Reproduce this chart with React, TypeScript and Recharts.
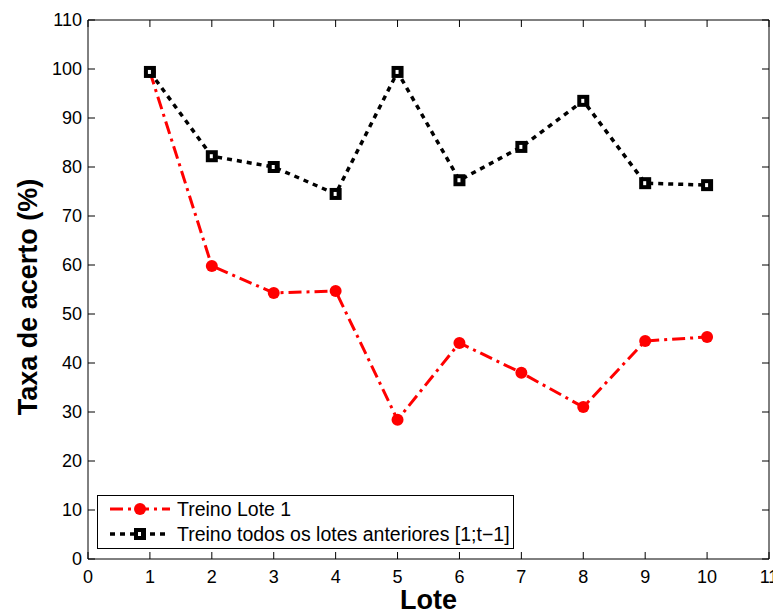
import React from 'react';
import { LineChart, Line, XAxis, YAxis } from 'recharts';

const lotes = [1, 2, 3, 4, 5, 6, 7, 8, 9, 10];
const treinoLote1 = [99.4, 59.8, 54.3, 54.7, 28.4, 44.1, 38.0, 31.0, 44.5, 45.3];
const treinoTodos = [99.4, 82.2, 80.0, 74.5, 99.4, 77.3, 84.1, 93.5, 76.7, 76.3];
const xTicks = [0, 1, 2, 3, 4, 5, 6, 7, 8, 9, 10, 11];
const yTicks = [0, 10, 20, 30, 40, 50, 60, 70, 80, 90, 100, 110];
const seriesNames = ['Treino Lote 1', 'Treino todos os lotes anteriores [1;t\u22121]'];

const data = lotes.map((l, i) => ({ lote: l, a: treinoLote1[i], b: treinoTodos[i] }));

const FONT = '"Liberation Sans", Arial, Helvetica, sans-serif';
const TICK_LEN = 7;
const RED_DASH = '13 5 3 5';
const BLACK_DASH = '5 5';

const BottomTick = (props: any) => {
  const { x, y, payload } = props;
  const axisY = y - 11;
  return (
    <g>
      <line x1={x} x2={x} y1={axisY} y2={axisY - TICK_LEN} stroke="#000" strokeWidth={1} />
      <text x={x} y={y} dy="0.71em" textAnchor="middle" fontFamily={FONT} fontSize={18} fill="#000">
        {payload.value}
      </text>
    </g>
  );
};

const LeftTick = (props: any) => {
  const { x, y, payload } = props;
  const axisX = x + 6;
  return (
    <g>
      <line x1={axisX} x2={axisX + TICK_LEN} y1={y} y2={y} stroke="#000" strokeWidth={1} />
      <text x={x} y={y} dy="0.355em" textAnchor="end" fontFamily={FONT} fontSize={18} fill="#000">
        {payload.value}
      </text>
    </g>
  );
};

const TopTick = (props: any) => {
  const { x, y } = props;
  return <line x1={x} x2={x} y1={y} y2={y + TICK_LEN} stroke="#000" strokeWidth={1} />;
};

const RightTick = (props: any) => {
  const { x, y } = props;
  return <line x1={x} x2={x - TICK_LEN} y1={y} y2={y} stroke="#000" strokeWidth={1} />;
};

const SquareDot = (props: any) => {
  const { cx, cy, index } = props;
  if (cx == null || cy == null) return null;
  return (
    <g key={`sq-${index}`}>
      <rect x={cx - 6} y={cy - 6} width={12} height={12} fill="#000" />
      <rect x={cx - 2} y={cy - 2} width={3} height={4} fill="#fff" />
    </g>
  );
};

const CircleDot = (props: any) => {
  const { cx, cy, index } = props;
  if (cx == null || cy == null) return null;
  return <circle key={`c-${index}`} cx={cx} cy={cy} r={6} fill="#ff0000" />;
};

const LegendBox = () => (
  <div
    style={{
      position: 'absolute',
      left: 89,
      top: 487,
      width: 417,
      height: 54,
      border: '1px solid #000',
      background: '#fff',
      boxSizing: 'border-box',
    }}
  >
    <svg width={415} height={52} style={{ display: 'block' }}>
      <line x1={12} x2={72} y1={13} y2={13} stroke="#ff0000" strokeWidth={3} strokeDasharray={RED_DASH} />
      <circle cx={42} cy={13} r={6} fill="#ff0000" />
      <text x={79} y={13} dy="0.355em" fontFamily={FONT} fontSize={19.5} fill="#000">{seriesNames[0]}</text>
      <line x1={12} x2={72} y1={38} y2={38} stroke="#000" strokeWidth={3.5} strokeDasharray={BLACK_DASH} />
      <rect x={36} y={32} width={12} height={12} fill="#000" />
      <rect x={40} y={36} width={3} height={4} fill="#fff" />
      <text x={79} y={38} dy="0.355em" fontFamily={FONT} fontSize={19.5} fill="#000">{seriesNames[1]}</text>
    </svg>
  </div>
);

const YLabel = () => (
  <text
    transform="translate(29, 289) rotate(-90)"
    textAnchor="middle"
    fontFamily={FONT}
    fontSize={27}
    fontWeight="bold"
    fill="#000"
  >
    Taxa de acerto (%)
  </text>
);

const XLabel = (props: any) => {
  const vb = props.viewBox || { x: 80, width: 681 };
  return (
    <text x={vb.x + vb.width / 2} y={601} textAnchor="middle" fontFamily={FONT} fontSize={27} fontWeight="bold" fill="#000">
      Lote
    </text>
  );
};

export default function App() {
  return (
    <div style={{ position: 'relative', width: 773, height: 606, background: '#fff' }}>
      <LineChart
        width={773}
        height={606}
        data={data}
        margin={{ top: 11, right: 11, left: 0, bottom: 0 }}
        style={{ overflow: 'visible' }}
      >
        <XAxis
          dataKey="lote"
          type="number"
          domain={[0, 11]}
          ticks={xTicks}
          interval={0}
          height={55}
          tickSize={0}
          tickMargin={11}
          tick={<BottomTick />}
          axisLine={{ stroke: '#000', strokeWidth: 1 }}
          tickLine={false}
          label={<XLabel />}
        />
        <XAxis
          xAxisId="top"
          orientation="top"
          dataKey="lote"
          type="number"
          domain={[0, 11]}
          ticks={xTicks}
          interval={0}
          height={1}
          tickSize={0}
          tickMargin={0}
          tick={<TopTick />}
          axisLine={{ stroke: '#000', strokeWidth: 1 }}
          tickLine={false}
        />
        <YAxis
          type="number"
          domain={[0, 110]}
          ticks={yTicks}
          interval={0}
          width={80}
          tickSize={0}
          tickMargin={6}
          tick={<LeftTick />}
          axisLine={{ stroke: '#000', strokeWidth: 1 }}
          tickLine={false}
          label={<YLabel />}
        />
        <YAxis
          yAxisId="right"
          orientation="right"
          type="number"
          domain={[0, 110]}
          ticks={yTicks}
          interval={0}
          width={1}
          tickSize={0}
          tickMargin={0}
          tick={<RightTick />}
          axisLine={{ stroke: '#000', strokeWidth: 1 }}
          tickLine={false}
        />
        <Line
          dataKey="a"
          name={seriesNames[0]}
          yAxisId="right"
          stroke="#ff0000"
          strokeWidth={3}
          strokeDasharray={RED_DASH}
          dot={<CircleDot />}
          activeDot={false}
          isAnimationActive={false}
        />
        <Line
          dataKey="b"
          name={seriesNames[1]}
          xAxisId="top"
          stroke="#000"
          strokeWidth={3.5}
          strokeDasharray={BLACK_DASH}
          dot={<SquareDot />}
          activeDot={false}
          isAnimationActive={false}
        />
      </LineChart>
      <LegendBox />
    </div>
  );
}
